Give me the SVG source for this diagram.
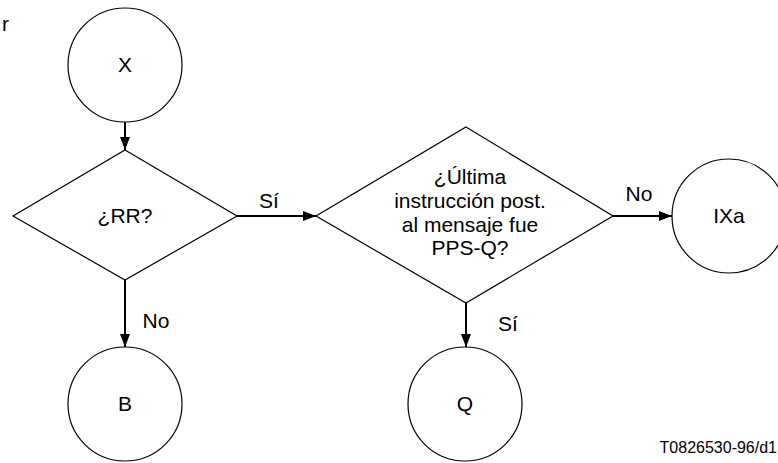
<svg xmlns="http://www.w3.org/2000/svg" width="778" height="463" viewBox="0 0 778 463">
<defs>
<style>
.shape{fill:none;stroke:#000;stroke-width:1.2}
.conn{stroke:#000;stroke-width:2;fill:none;marker-end:url(#ah)}
text{font-family:"Liberation Sans",Arial,sans-serif;font-size:21px;fill:#000}
.c{text-anchor:middle}
</style>
<marker id="ah" markerUnits="userSpaceOnUse" markerWidth="13" markerHeight="10" refX="13" refY="5" orient="auto">
<path d="M0,0 L13,5 L0,10 z" fill="#000"/>
</marker>
</defs>
<rect width="778" height="463" fill="#fff"/>
<text x="2" y="31">r</text>
<g id="nodeX"><circle class="shape" cx="125" cy="65" r="57"/><text class="c" x="125" y="72">X</text></g>
<g id="nodeRR"><polygon class="shape" points="125,150 237,216 125,280 13,216"/><text class="c" x="125" y="223">¿RR?</text></g>
<g id="nodePPS"><polygon class="shape" points="466,127 613,216 466,303 316,216"/>
<text class="c" x="470" y="184">¿Última</text>
<text class="c" x="470" y="208">instrucción post.</text>
<text class="c" x="470" y="232">al mensaje fue</text>
<text class="c" x="470" y="255">PPS-Q?</text></g>
<g id="nodeIXa"><circle class="shape" cx="729" cy="216" r="57"/><text class="c" x="729" y="223">IXa</text></g>
<g id="nodeB"><circle class="shape" cx="125" cy="404" r="57"/><text class="c" x="125" y="411">B</text></g>
<g id="nodeQ"><circle class="shape" cx="465" cy="404" r="57"/><text class="c" x="465" y="411">Q</text></g>
<g id="connectors">
<line class="conn" x1="125" y1="122" x2="125" y2="150"/>
<line class="conn" x1="237" y1="216" x2="316" y2="216"/>
<line class="conn" x1="613" y1="216" x2="672" y2="216"/>
<line class="conn" x1="125" y1="280" x2="125" y2="347"/>
<line class="conn" x1="466" y1="303" x2="466" y2="347"/>
<text class="c" x="269" y="208">Sí</text>
<text class="c" x="639" y="201">No</text>
<text class="c" x="156" y="328">No</text>
<text class="c" x="508" y="331">Sí</text>
</g>
<text x="777" y="453" style="font-size:16px;text-anchor:end">T0826530-96/d1</text>
</svg>
